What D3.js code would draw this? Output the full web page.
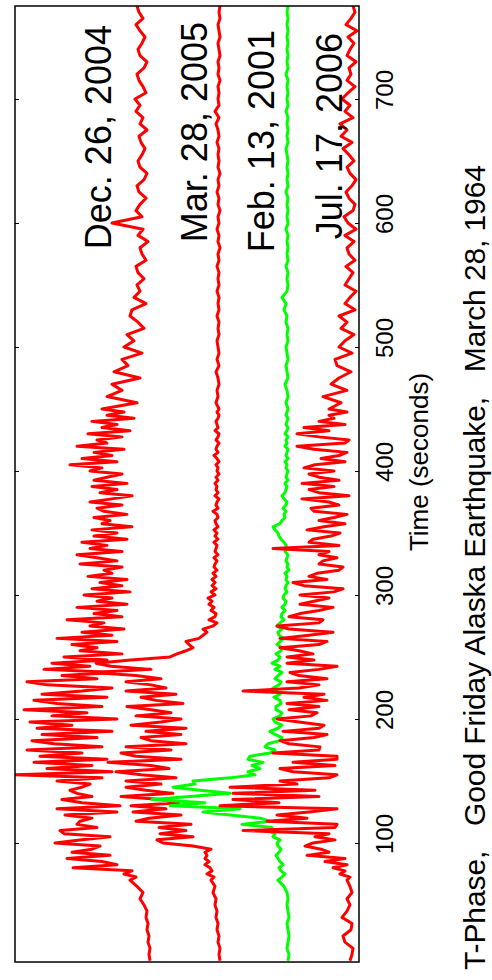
<!DOCTYPE html>
<html>
<head>
<meta charset="utf-8">
<script src="https://cdn.jsdelivr.net/npm/d3@7"></script>
<style>
  body { margin: 0; background: #fff; }
  svg { display: block; font-family: "Liberation Sans", Arial, sans-serif; }
</style>
</head>
<body>
<svg id="chart" width="492" height="980"></svg>
<script>
// sample clock, seconds: 5 s steps while quiet, 2.5 s through the busy part
var times = d3.range(5, 70, 5)
  .concat(d3.range(70, 450, 2.5))
  .concat(d3.range(450, 780, 5));

// envelope amplitudes (counts), one per sample time
var dec2004 = [2,3,2,4,3,5,4,6,5,8,12,9,15,
  22,16,28,20,79,35,50,85,
  42,80,60,52,97,70,42,88,
  92,55,75,72,60,87,35,95,
  32,70,90,60,75,82,70,62,
  95,50,137,40,105,60,118,45,
  112,70,125,50,98,120,55,110,
  40,115,80,122,35,100,65,128,
  50,95,118,45,110,70,40,105,
  125,55,90,38,108,62,100,45,
  88,30,72,55,80,35,95,40,
  70,28,62,48,85,30,58,35,
  75,25,55,40,68,22,60,30,
  52,25,64,40,48,30,72,35,
  55,75,30,62,45,70,25,58,
  35,60,20,50,42,58,25,48,
  55,30,62,40,20,52,35,60,
  25,58,45,30,62,50,82,35,
  70,40,58,28,75,45,55,30,
  64,22,50,35,60,18,45,28,
  50,15,45,30,40,12,38,24,30,10,
  28,18,25,8,14,22,20,6,18,12,
  15,8,14,16,6,10,12,4,14,9,
  40,10,16,12,6,13,15,8,5,12,
  14,10,7,11,13,5,12,9,16,12,
  17,6,9,13,15,8,5,12,14,10,
  7,12,16,9,13,15];
var mar2005 = [1,2,1,3,2,4,3,5,4,6,5,8,6,
  10,7,14,9,11,16,12,16,
  14,16,10,28,58,64,28,61,
  35,62,30,85,72,40,88,55,
  90,42,60,100,48,75,95,60,
  95,45,80,105,52,70,113,40,
  85,100,50,95,35,70,80,40,
  75,35,90,60,40,85,50,70,
  94,38,65,80,45,95,55,70,
  95,60,85,128,70,110,125,90,
  51,44,35,28,32,35,22,18,
  14,18,8,4,12,6,5,10,
  7,12,9,13,6,10,5,9,
  6,9,5,8,4,7,6,4,
  7,3,6,5,4,7,3,6,
  4,7,3,5,6,3,4,8,
  3,5,4,2,6,3,5,4,
  6,3,5,2,4,3,5,2,
  4,7,3,5,4,2,5,3,
  2,6,3,4,5,3,2,4,
  2,5,3,4,2,3,5,2,4,2,
  3,4,2,3,2,4,2,3,2,4,
  2,3,2,4,2,3,1,3,2,4,
  2,3,1,3,2,4,2,3,1,3,
  2,3,2,4,2,3,5,2,6,2,
  3,2,3,1,3,2,3,1,2,3,
  1,2,3,1,2,1];
var feb2001 = [2,1,3,2,1,2,3,1,2,3,2,3,6,
  12,8,5,9,11,7,10,12,
  14,11,9,12,13,10,17,15,
  22,18,48,20,30,60,87,50,
  120,85,138,100,60,90,117,95,
  97,60,35,42,30,38,27,42,
  40,20,15,25,22,10,8,15,
  20,12,8,15,17,10,8,14,
  14,9,10,16,10,13,17,11,
  9,15,12,8,15,10,18,12,
  10,14,9,8,13,10,6,11,
  12,8,13,10,6,9,8,5,
  8,5,4,7,6,3,5,4,
  2,4,3,5,1,3,2,4,
  3,2,5,3,4,6,9,11,
  12,15,17,10,8,5,6,4,
  7,4,3,6,8,5,4,3,
  5,2,4,3,2,4,3,5,
  2,4,3,2,5,3,4,2,
  5,3,2,4,3,2,4,3,
  2,4,2,3,5,2,3,4,2,3,
  4,2,3,2,4,3,6,4,8,3,
  2,3,2,4,2,3,2,3,2,4,
  2,3,2,3,2,4,2,3,2,3,
  2,3,4,2,3,2,3,2,4,2,
  3,2,3,2,4,2,3,2,3,2,
  3,2,3,2,3,2];
var jul2006 = [9,7,6,14,16,8,7,17,12,9,12,7,9,
  12,9,19,14,26,12,34,14,
  52,30,38,54,46,24,44,30,
  116,24,22,92,52,82,50,22,
  139,80,126,40,126,44,129,62,
  79,30,22,66,79,24,66,22,
  22,86,40,39,70,79,45,32,
  76,40,35,60,82,48,42,70,
  40,72,32,55,35,116,60,40,
  72,32,60,69,40,22,72,45,
  72,46,60,79,40,32,79,50,
  26,70,82,40,36,70,59,40,
  26,59,45,30,59,25,16,55,
  66,32,50,42,20,16,40,36,
  22,40,30,86,20,50,46,28,
  19,52,35,14,40,25,12,45,
  48,20,30,57,10,40,50,25,
  57,20,40,50,25,55,44,14,
  38,20,12,45,62,14,10,40,
  62,30,55,14,40,25,30,12,
  30,18,36,12,28,20,8,22,24,7,
  20,14,5,18,12,20,4,14,9,3,
  14,10,6,13,4,10,12,5,14,3,
  11,15,6,4,10,13,7,3,9,12,
  5,10,16,7,18,12,19,6,14,9,
  17,11,4,12,8,10,3,12,9,5,
  11,2,13,8,4,6];

var eventNames = ["Dec. 26, 2004", "Mar. 28, 2005", "Feb. 13, 2001", "Jul. 17, 2006"];
var eventSeries = [dec2004, mar2005, feb2001, jul2006];
var eventOffsets = [207, 138, 69, 0];
var eventColors = ["#ff0000", "#ff0000", "#00ff00", "#ff0000"];
var timeTicks = [100, 200, 300, 400, 500, 600, 700];

var svg = d3.select("#chart");

// plot box (time runs bottom -> top, amplitude grows to the left)
var box = {left: 15, right: 359, top: 6, bottom: 962};

var t = d3.scaleLinear().domain([4, 775]).range([box.bottom, box.top]);
var a = d3.scaleLinear().domain([0, 344]).range([box.right, box.left]);

var plot = svg.append("g");

plot.append("clipPath").attr("id", "clip")
  .append("rect")
  .attr("x", box.left).attr("y", box.top)
  .attr("width", box.right - box.left).attr("height", box.bottom - box.top);

var line = d3.line()
  .x(d => a(d.v))
  .y(d => t(d.t));

eventSeries.forEach(function(s, k){
  var pts = s.map((v, i) => ({t: times[i], v: v + eventOffsets[k]}));
  plot.append("path")
    .datum(pts)
    .attr("clip-path", "url(#clip)")
    .attr("fill", "none")
    .attr("stroke", eventColors[k])
    .attr("stroke-width", 3)
    .attr("stroke-linejoin", "round")
    .attr("d", line);
});

// ticks on both edges, pointing inward
svg.append("g")
  .attr("transform", `translate(${box.left},0)`)
  .call(d3.axisRight(t).tickValues(timeTicks).tickSize(4).tickFormat(""))
  .call(g => g.select(".domain").remove());
svg.append("g")
  .attr("transform", `translate(${box.right},0)`)
  .call(d3.axisLeft(t).tickValues(timeTicks).tickSize(4).tickFormat(""))
  .call(g => g.select(".domain").remove());

svg.append("rect")
  .attr("x", box.left).attr("y", box.top)
  .attr("width", box.right - box.left).attr("height", box.bottom - box.top)
  .attr("fill", "none").attr("stroke", "#000").attr("stroke-width", 1.5);

// tick labels, rotated like the rest of the figure
svg.append("g").selectAll("text")
  .data(timeTicks)
  .enter()
  .append("text")
  .attr("transform", d => `translate(393,${t(d) - 9}) rotate(-90)`)
  .attr("text-anchor", "middle")
  .attr("font-size", 24)
  .text(d => d);

svg.append("text")
  .attr("transform", "translate(428,462) rotate(-90)")
  .attr("text-anchor", "middle")
  .attr("font-size", 26)
  .text("Time (seconds)");

// event labels
var labelPos = [[111, 25], [207, 22], [274, 30], [342, 33]];
svg.append("g").selectAll("text")
  .data(eventNames)
  .enter()
  .append("text")
  .attr("transform", (d, i) => `translate(${labelPos[i][0]},${labelPos[i][1]}) rotate(-90)`)
  .attr("text-anchor", "end")
  .attr("font-size", 36)
  .text(d => d);

svg.append("text")
  .attr("transform", "translate(485,970) rotate(-90)")
  .attr("font-size", 30)
  .attr("textLength", 805)
  .attr("lengthAdjust", "spacing")
  .text("T-Phase,\u00a0\u00a0\u00a0Good Friday Alaska Earthquake,\u00a0\u00a0\u00a0March 28, 1964");
</script>
</body>
</html>
